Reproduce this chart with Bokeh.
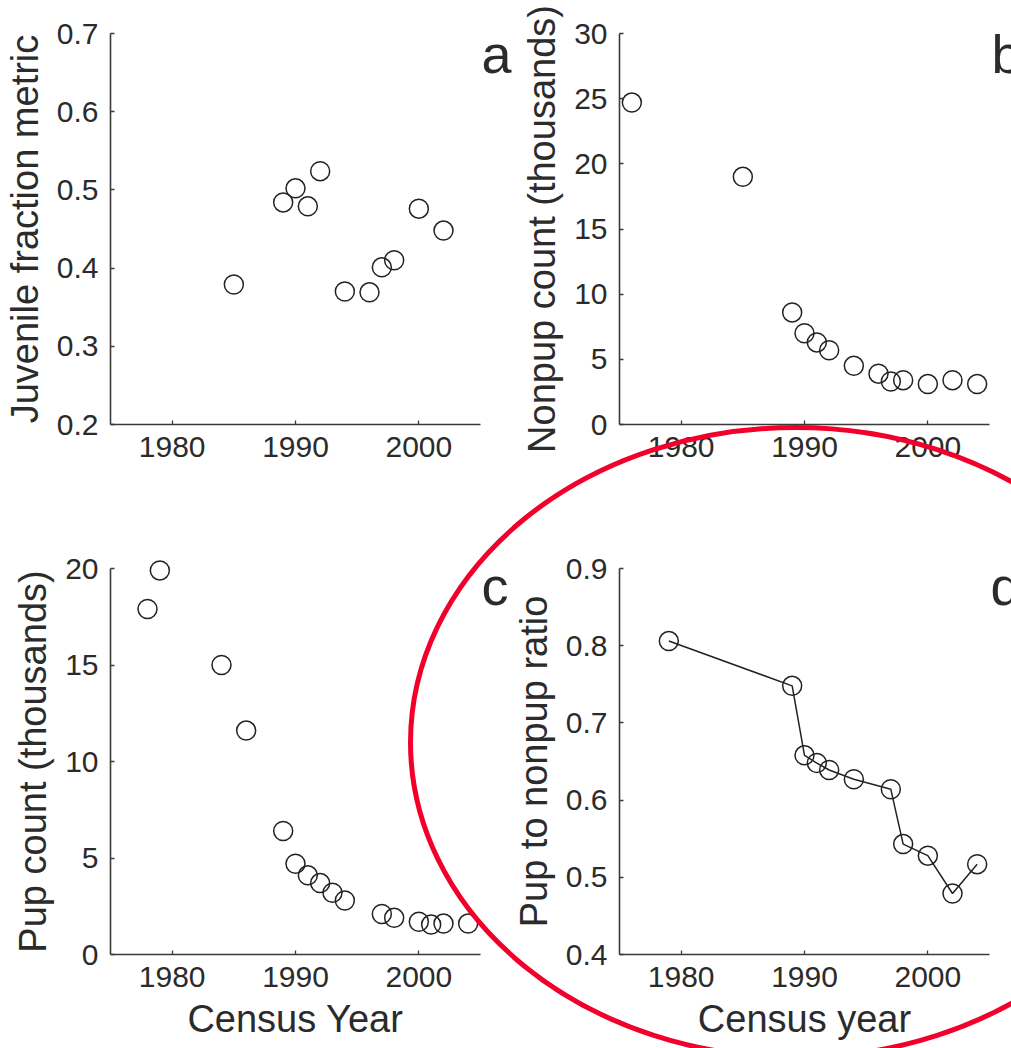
from bokeh.plotting import figure
from bokeh.models import Range1d, FixedTicker, PrintfTickFormatter, Label
from bokeh.layouts import gridplot
from bokeh.embed import file_html
from bokeh.resources import INLINE

# ---------------- data ----------------
years_juvenile = [1985, 1989, 1990, 1991, 1992, 1994, 1996, 1997, 1998, 2000, 2002]
juvenile_fraction = [0.379, 0.484, 0.502, 0.479, 0.524, 0.370, 0.369, 0.401, 0.410, 0.476, 0.448]

years_nonpup = [1976, 1985, 1989, 1990, 1991, 1992, 1994, 1996, 1997, 1998, 2000, 2002, 2004]
nonpup_count = [24.7, 19.0, 8.6, 7.0, 6.3, 5.7, 4.5, 3.9, 3.3, 3.4, 3.1, 3.4, 3.1]

years_pup = [1978, 1979, 1984, 1986, 1989, 1990, 1991, 1992, 1993, 1994, 1997, 1998, 2000, 2001, 2002, 2004]
pup_count = [17.9, 19.9, 15.0, 11.6, 6.4, 4.7, 4.1, 3.7, 3.2, 2.8, 2.1, 1.9, 1.7, 1.55, 1.6, 1.6]

years_ratio = [1979, 1989, 1990, 1991, 1992, 1994, 1997, 1998, 2000, 2002, 2004]
pup_nonpup_ratio = [0.806, 0.748, 0.658, 0.648, 0.639, 0.627, 0.614, 0.543, 0.528, 0.479, 0.517]

x_ticks = [1980, 1990, 2000]
yticks_a = [0.2, 0.3, 0.4, 0.5, 0.6, 0.7]
yticks_b = [0, 5, 10, 15, 20, 25, 30]
yticks_c = [0, 5, 10, 15, 20]
yticks_d = [0.4, 0.5, 0.6, 0.7, 0.8, 0.9]

FONT = "Liberation Sans"
INK = "#2b2b2b"
AXIS = "#3a3a3a"
RED = "#F2002B"
X_SPAN = (1975, 2005)

# red ellipse on the page (pixels): centre and full width/height
ELL_CENTER = (795.0, 742.0)
ELL_SIZE = (770.0, 630.0)


def make_panel(cx0, cy0, cw, ch, ax_l, ax_r, ax_t, ax_b, ys, yticks, fmt,
               ylabel, xlabel, letter, letter_xy):
    # page-pixel -> data mapping, so that the whole canvas is the frame
    sx = (ax_r - ax_l) / (X_SPAN[1] - X_SPAN[0])
    sy = (ax_b - ax_t) / (ys[1] - ys[0])
    x0 = X_SPAN[0] - (ax_l - cx0) / sx
    x1 = X_SPAN[1] + (cx0 + cw - ax_r) / sx
    y1 = ys[1] + (ax_t - cy0) / sy
    y0 = ys[0] - (cy0 + ch - ax_b) / sy

    def px(X, Y):
        return X_SPAN[0] + (X - ax_l) / sx, ys[1] - (Y - ax_t) / sy

    p = figure(width=cw, height=ch, min_border=0,
               x_range=Range1d(x0, x1), y_range=Range1d(y0, y1),
               output_backend="svg", toolbar_location=None, tools="")
    p.xgrid.visible = False
    p.ygrid.visible = False
    p.outline_line_color = None
    p.background_fill_color = "white"
    p.border_fill_color = "white"

    xa = p.xaxis[0]
    ya = p.yaxis[0]
    xa.fixed_location = ys[0]
    ya.fixed_location = X_SPAN[0]
    xa.bounds = X_SPAN
    ya.bounds = ys
    for ax in (xa, ya):
        ax.axis_line_color = AXIS
        ax.axis_line_width = 1.6
        ax.major_tick_line_color = AXIS
        ax.major_tick_line_width = 1.3
        ax.major_tick_in = 4
        ax.major_tick_out = 0
        ax.minor_tick_line_color = None
        ax.major_label_text_font = FONT
        ax.major_label_text_font_size = "30px"
        ax.major_label_text_color = INK
        ax.major_label_standoff = 12
        ax.axis_label_text_font = FONT
        ax.axis_label_text_font_size = "38px"
        ax.axis_label_text_font_style = "normal"
        ax.axis_label_text_color = INK
        ax.axis_label_standoff = 8
    xa.ticker = FixedTicker(ticks=x_ticks)
    ya.ticker = FixedTicker(ticks=yticks)
    xa.formatter = PrintfTickFormatter(format="%d")
    ya.formatter = PrintfTickFormatter(format=fmt)
    ya.axis_label = ylabel
    if xlabel:
        xa.axis_label = xlabel

    lx, ly = px(*letter_xy)
    p.add_layout(Label(x=lx, y=ly, text=letter, text_font=FONT,
                       text_font_size="54px", text_color=INK,
                       text_align="left", text_baseline="alphabetic"))

    ecx, ecy = px(*ELL_CENTER)
    p.ellipse(x=[ecx], y=[ecy], width=ELL_SIZE[0], height=ELL_SIZE[1],
              width_units="screen", height_units="screen",
              fill_color=None, line_color=RED, line_width=5, level="overlay")
    return p


pa = make_panel(0, 0, 512, 500, 110, 480, 33, 424, (0.2, 0.7), yticks_a, "%.1f",
                "Juvenile fraction metric", None, "a", (481, 53))
pb = make_panel(512, 0, 499, 500, 619, 989, 33, 424, (0, 30), yticks_b, "%d",
                "Nonpup count (thousands)", None, "b", (991, 53))
pc = make_panel(0, 500, 512, 548, 110, 480, 568, 954, (0, 20), yticks_c, "%d",
                "Pup count (thousands)", "Census Year", "c", (481, 585))
pd = make_panel(512, 500, 499, 548, 619, 989, 568, 954, (0.4, 0.9), yticks_d, "%.1f",
                "Pup to nonpup ratio", "Census year", "d", (990, 585))

mk = dict(marker="circle", size=19, fill_color=None, line_color="#222222", line_width=1.5)
pa.scatter(years_juvenile, juvenile_fraction, **mk)
pb.scatter(years_nonpup, nonpup_count, **mk)
pc.scatter(years_pup, pup_count, **mk)
pd.line(years_ratio, pup_nonpup_ratio, line_color="#222222", line_width=1.5)
pd.scatter(years_ratio, pup_nonpup_ratio, **mk)

grid = gridplot([[pa, pb], [pc, pd]], toolbar_location=None)

open("out.html", "w").write(file_html(grid, INLINE))
